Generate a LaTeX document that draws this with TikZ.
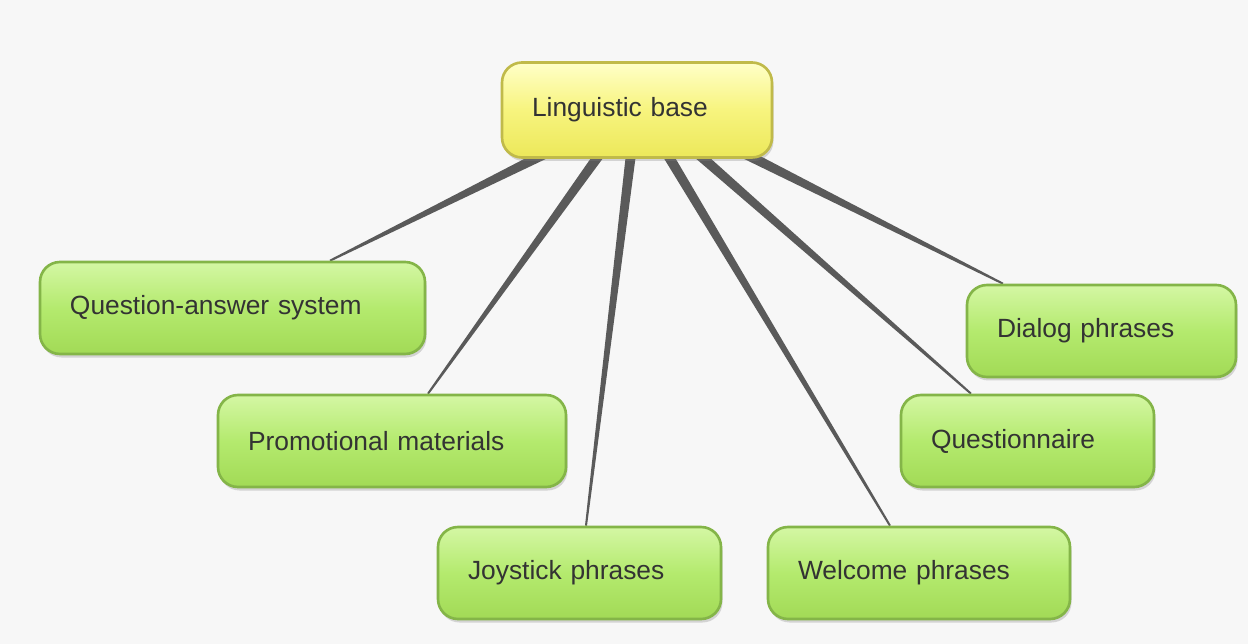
\documentclass[tikz,border=0pt]{standalone}
\usepackage{fontspec}
\setmainfont{Liberation Sans}
\usepackage{tikz}
\usetikzlibrary{positioning,calc,shadows,backgrounds}

\definecolor{leafTop}{HTML}{D4F7A4}
\definecolor{leafMid}{HTML}{B4EA6E}
\definecolor{leafBot}{HTML}{A2DA56}
\definecolor{leafEdge}{HTML}{84B548}
\definecolor{rootTop}{HTML}{FFFFC8}
\definecolor{rootMid}{HTML}{F7F47E}
\definecolor{rootBot}{HTML}{ECE85A}
\definecolor{rootEdge}{HTML}{C0BA4A}
\definecolor{spokeGray}{HTML}{5A5A5A}
\definecolor{paper}{HTML}{F7F7F7}

\tikzset{
  topic/.style={rounded corners=0.4cm, line width=1.5pt, minimum height=1.84cm,
    inner xsep=0.6cm, align=left, font=\fontsize{15}{18}\selectfont, text=black!80,
    drop shadow={opacity=0.3, shadow xshift=0.03cm, shadow yshift=-0.07cm}},
  leaf/.style={topic, draw=leafEdge, top color=leafTop, bottom color=leafBot, middle color=leafMid},
  root/.style={topic, draw=rootEdge, top color=rootTop, bottom color=rootBot, middle color=rootMid, minimum height=1.9cm},
}

% tapered connector, wide at #1 and thin at #2
\newcommand{\spoke}[2]{%
  \fill[spokeGray] ($(#1)!0.1cm!90:(#2)$) -- ($(#2)!0.02cm!-90:(#1)$)
    -- ($(#2)!0.02cm!90:(#1)$) -- ($(#1)!0.1cm!-90:(#2)$) -- cycle;}

\begin{document}
\begin{tikzpicture}
\useasboundingbox (0,0) rectangle (24.96,-12.88);

\node[root, text width=4.2cm] (lb) at (12.74,-2.2) {Linguistic base};

\node[leaf, text width=6.5cm] (qa) at (4.65,-6.16) {Question-answer system};
\node[leaf, text width=5.76cm] (pm) at (7.84,-8.82) {Promotional materials};
\node[leaf, text width=4.46cm] (js) at (11.59,-11.46) {Joystick phrases};
\node[leaf, text width=4.84cm] (wp) at (18.38,-11.46) {Welcome phrases};
\node[leaf, text width=3.86cm] (qn) at (20.55,-8.82) {Questionnaire};
\node[leaf, text width=4.18cm] (dp) at (22.03,-6.62) {Dialog phrases};

% where the spokes leave the base and meet the leaves
\coordinate (lb-qa) at ($(lb.south)+(-1.84,0.1)$);
\coordinate (lb-pm) at ($(lb.south)+(-0.74,0.1)$);
\coordinate (lb-js) at ($(lb.south)+(-0.12,0.1)$);
\coordinate (lb-wp) at ($(lb.south)+(0.6,0.1)$);
\coordinate (lb-qn) at ($(lb.south)+(1.22,0.1)$);
\coordinate (lb-dp) at ($(lb.south)+(2.16,0.1)$);
\coordinate (qa-in) at ($(qa.north)+(1.95,0)$);
\coordinate (pm-in) at ($(pm.north)+(0.72,0)$);
\coordinate (js-in) at ($(js.north)+(0.13,0)$);
\coordinate (wp-in) at ($(wp.north)+(-0.58,0)$);
\coordinate (qn-in) at ($(qn.north)+(-1.13,0)$);
\coordinate (dp-in) at ($(dp.north)+(-1.97,0)$);

\begin{pgfonlayer}{background}
\fill[paper] (0,0) rectangle (24.96,-12.88);
\spoke{lb-qa}{qa-in}
\spoke{lb-pm}{pm-in}
\spoke{lb-js}{js-in}
\spoke{lb-wp}{wp-in}
\spoke{lb-qn}{qn-in}
\spoke{lb-dp}{dp-in}
\end{pgfonlayer}
\end{tikzpicture}
\end{document}
